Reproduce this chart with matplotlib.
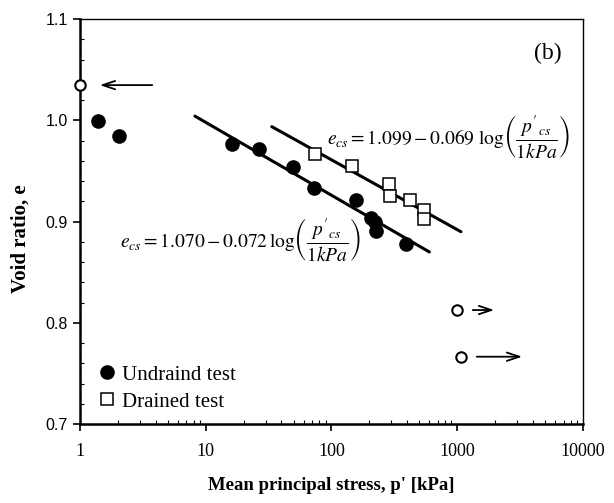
import numpy as np
import matplotlib
matplotlib.use('Agg')
from matplotlib import pyplot as plt

plt.rcParams['font.family'] = 'Liberation Serif'
plt.rcParams['mathtext.fontset'] = 'stix'

# undrained tests (filled circles)
p_und = [1.40, 2.04, 16.3, 26.5, 49.1, 72.2, 157, 206, 222, 226, 391]
e_und = [0.9996, 0.985, 0.977, 0.972, 0.9535, 0.933, 0.921, 0.904, 0.900, 0.891, 0.878]

# drained tests (open squares)
p_dr = [73.9, 145, 288, 292, 421, 544, 544]
e_dr = [0.967, 0.955, 0.937, 0.9255, 0.921, 0.911, 0.903]

# points off the line, with arrows
p_off = [1.0, 990, 1071]
e_off = [1.0348, 0.8126, 0.7665]
arrow_from = [3.95, 1262, 1359]
arrow_to = [1.365, 2070, 3457]

# critical state lines e = a - b log(p)
und_fit = (1.070, 0.072)
dr_fit = (1.099, 0.069)
und_range = [8.2, 600]
dr_range = [33.5, 1070]

fig = plt.figure(figsize=(6.14, 5.03), dpi=100)
ax = fig.add_axes([0.1303, 0.157, 0.8192, 0.805])

for (a, b), rng in [(und_fit, und_range), (dr_fit, dr_range)]:
    pp = np.array(rng)
    ax.plot(pp, a - b * np.log10(pp), color='black', lw=2.2, solid_capstyle='round', zorder=2)

ax.plot(p_und, e_und, 'o', ms=9.5, color='black', zorder=3)
ax.plot(p_dr, e_dr, 's', ms=9, mfc='white', mec='black', mew=1.1, zorder=3)
ax.plot(p_off, e_off, 'o', ms=7.5, mfc='white', mec='black', mew=1.5, zorder=4, clip_on=False)

for x0, x1, y in zip(arrow_from, arrow_to, e_off):
    ax.annotate('', xy=(x1, y), xytext=(x0, y),
                arrowprops=dict(arrowstyle='->,head_length=0.9,head_width=0.3', lw=1.3, color='black'))

ax.set_xscale('log')
ax.set_xlim(1, 10000)
ax.set_ylim(0.7, 1.1)
ax.set_yticks(np.arange(0.7, 1.101, 0.1))
ax.set_yticks(np.arange(0.7, 1.101, 0.02), minor=True)
ax.set_xticks([1, 10, 100, 1000, 10000])
ax.set_xticklabels(['1', '10', '100', '1000', '10000'], fontsize=13)
ax.set_yticklabels(['0.7', '0.8', '0.9', '1.0', '1.1'], family='Liberation Sans', fontsize=11.5)

ax.tick_params(axis='both', which='major', direction='out', length=5, width=1.2)
ax.tick_params(axis='x', which='major', pad=9)
ax.tick_params(axis='y', which='major', pad=4)
ax.tick_params(axis='both', which='minor', direction='in', length=3, width=0.8)
for side in ['left', 'bottom']:
    ax.spines[side].set_linewidth(1.8)
for side in ['top', 'right']:
    ax.spines[side].set_linewidth(1.0)

ax.set_xlabel("Mean principal stress, p' [kPa]", fontsize=13.5, fontweight='bold', labelpad=12)
ax.set_ylabel('Void ratio, e', fontsize=15, fontweight='bold')
ax.yaxis.set_label_coords(-0.099, 0.457)

ax.text(0.958, 0.915, '(b)', transform=ax.transAxes, fontsize=17, ha='right', va='center')

ax.text(0.491, 0.71,
        r"$e_{cs}=1.099-0.069\ \mathrm{log}\left(\dfrac{p'_{cs}}{1kPa}\right)$",
        transform=ax.transAxes, fontsize=14, ha='left', va='center')
ax.text(0.079, 0.455,
        r"$e_{cs}=1.070-0.072\,\mathrm{log}\left(\dfrac{p'_{cs}}{1kPa}\right)$",
        transform=ax.transAxes, fontsize=14, ha='left', va='center')

ax.plot([], [], 'o', ms=9.5, color='black', label='Undraind test')
ax.plot([], [], 's', ms=9, mfc='white', mec='black', mew=1.1, label='Drained test')
handles, labels = ax.get_legend_handles_labels()
ax.legend(handles, labels, loc='lower left', frameon=False, fontsize=15,
          handlelength=0.8, handletextpad=0.3, borderaxespad=0, labelspacing=0.35,
          bbox_to_anchor=(0.021, 0.01))

fig.savefig('out.png', dpi=100)
